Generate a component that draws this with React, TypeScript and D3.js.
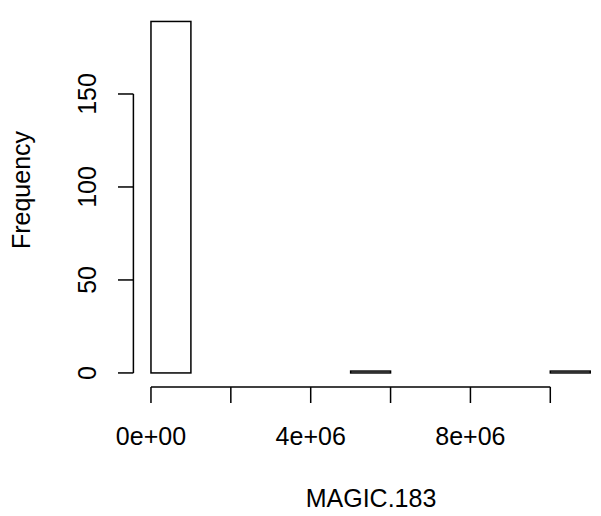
import React from "react";
import * as d3 from "d3";

const binStarts = [0, 1e6, 2e6, 3e6, 4e6, 5e6, 6e6, 7e6, 8e6, 9e6, 10e6];
const binEnds = [1e6, 2e6, 3e6, 4e6, 5e6, 6e6, 7e6, 8e6, 9e6, 10e6, 11e6];
const counts = [189, 0, 0, 0, 0, 1, 0, 0, 0, 0, 1];
const xTicks = [0, 2e6, 4e6, 6e6, 8e6, 10e6];
const xTickLabels = ["0e+00", "", "4e+06", "", "8e+06", ""];
const yTicks = [0, 50, 100, 150];
const xTitle = "MAGIC.183";
const yTitle = "Frequency";

const W = 601;
const H = 516;
const FONT = "'Liberation Sans', Arial, Helvetica, sans-serif";
const FS = 25;

export default function App() {
  const x = d3.scaleLinear().domain([-4.4e5, 1.144e7]).range([133.4, 607.8]);
  const y = d3.scaleLinear().domain([-7.56, 196.56]).range([387, 7.4]);
  const lw = 1.5;
  return (
    <svg
      width={W}
      height={H}
      style={{ position: "absolute", left: 0, top: 0, background: "#fff" }}
      fontFamily={FONT}
    >
      <rect x={0} y={0} width={W} height={H} fill="#fff" />
      {counts.map((c, i) => (
        <rect
          key={i}
          x={x(binStarts[i])}
          y={y(c)}
          width={x(binEnds[i]) - x(binStarts[i])}
          height={y(0) - y(c)}
          fill="#fff"
          stroke="#000"
          strokeWidth={lw}
        />
      ))}
      {/* x axis */}
      <line
        x1={x(xTicks[0])}
        x2={x(xTicks[xTicks.length - 1])}
        y1={387}
        y2={387}
        stroke="#000"
        strokeWidth={lw}
      />
      {xTicks.map((t, i) => (
        <g key={i}>
          <line x1={x(t)} x2={x(t)} y1={387} y2={403} stroke="#000" strokeWidth={lw} />
          {xTickLabels[i] && (
            <text x={x(t)} y={445} textAnchor="middle" fontSize={FS} fill="#000">
              {xTickLabels[i]}
            </text>
          )}
        </g>
      ))}
      {/* y axis */}
      <line
        x1={133.4}
        x2={133.4}
        y1={y(yTicks[0])}
        y2={y(yTicks[yTicks.length - 1])}
        stroke="#000"
        strokeWidth={lw}
      />
      {yTicks.map((t, i) => (
        <g key={i}>
          <line x1={118} x2={133.4} y1={y(t)} y2={y(t)} stroke="#000" strokeWidth={lw} />
          <text
            transform={`translate(96,${y(t)}) rotate(-90)`}
            textAnchor="middle"
            fontSize={FS}
            fill="#000"
          >
            {String(t)}
          </text>
        </g>
      ))}
      <text x={371} y={507} textAnchor="middle" fontSize={FS} fill="#000">
        {xTitle}
      </text>
      <text
        transform={`translate(30,${190}) rotate(-90)`}
        textAnchor="middle"
        fontSize={FS}
        fill="#000"
      >
        {yTitle}
      </text>
    </svg>
  );
}
